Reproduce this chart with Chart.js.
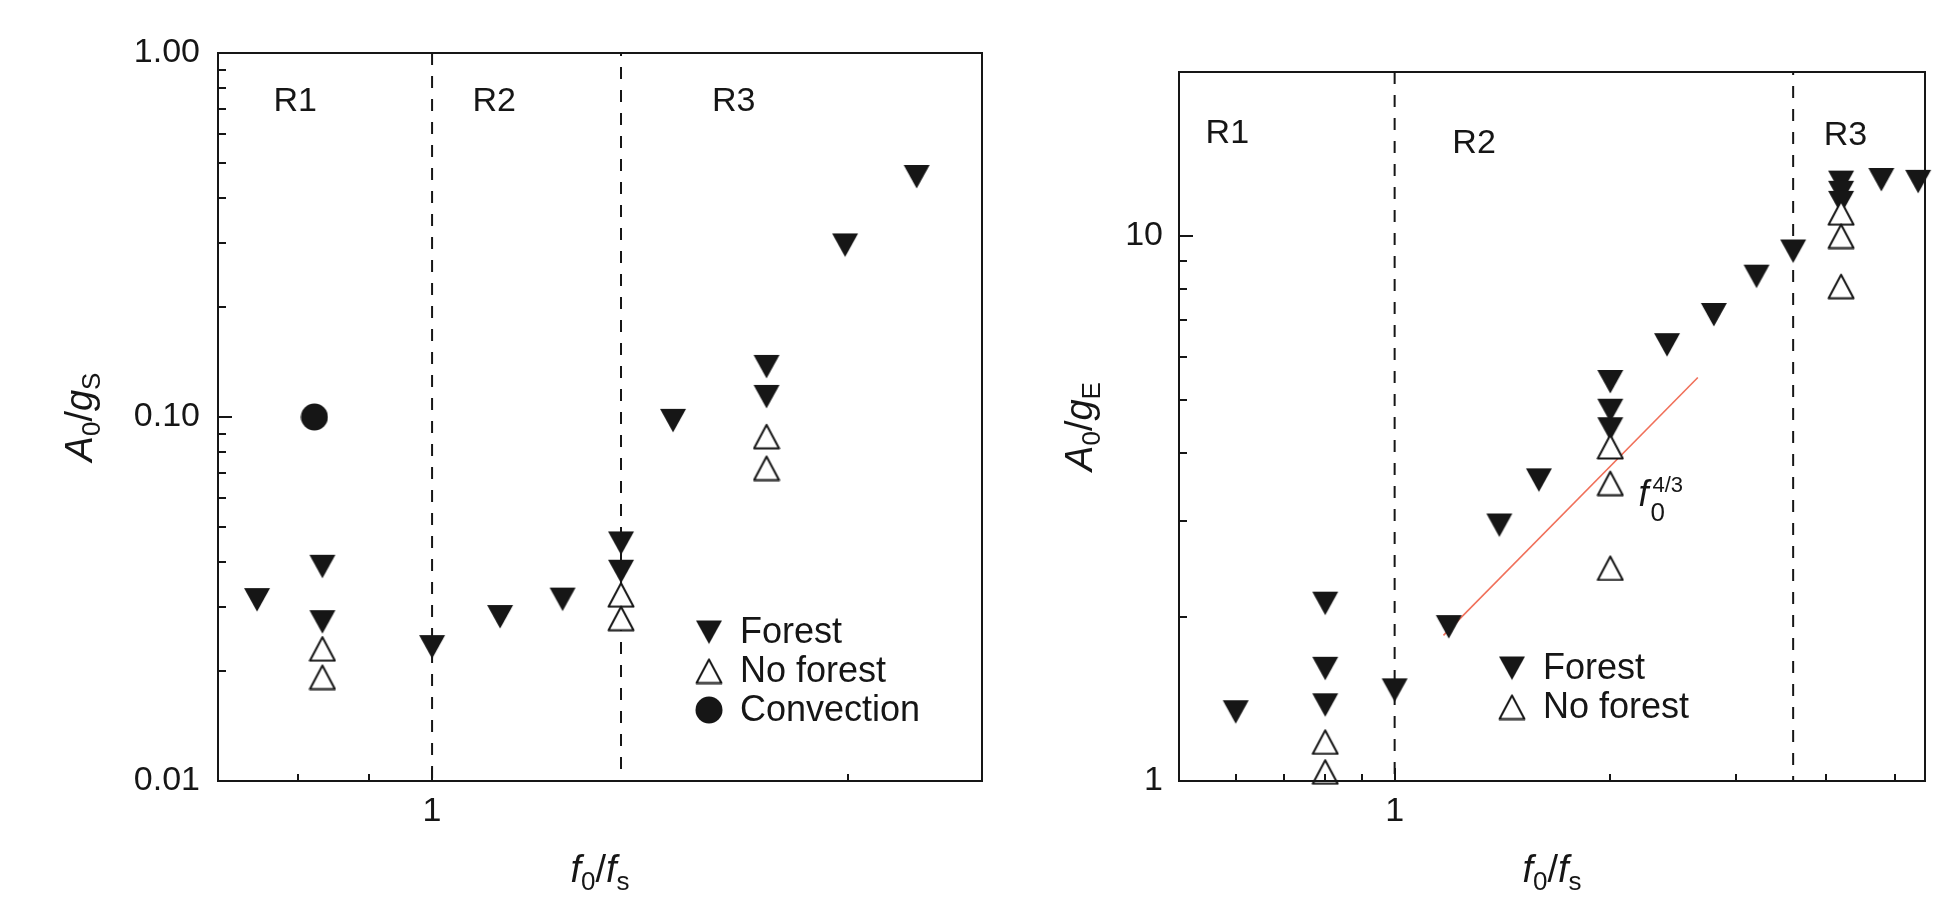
<!DOCTYPE html>
<html>
<head>
<meta charset="utf-8">
<script src="https://cdn.jsdelivr.net/npm/chart.js@4.4.1/dist/chart.umd.min.js"></script>
<style>
  body { margin: 0; background: #fff; width: 1959px; height: 901px; overflow: hidden; position: relative; }
  canvas { position: absolute; top: 0; }
  #left { left: 0; }
  #right { left: 1000px; }
</style>
</head>
<body>
<canvas id="left" width="1000" height="901"></canvas>
<canvas id="right" width="959" height="901"></canvas>
<script>
var INK = '#161616';
var FONT = "'Liberation Sans', Arial, Helvetica, sans-serif";

// left panel: A0/gS against f0/fs
var forestSx = [0.747, 0.833, 0.833, 1.0, 1.12, 1.243, 1.37, 1.37, 1.494, 1.746, 1.746, 1.99, 2.242];
var forestSy = [0.0315, 0.0389, 0.0274, 0.0234, 0.0283, 0.0316, 0.0451, 0.0377, 0.0979, 0.1377, 0.1139, 0.297, 0.458];
var noForestSx = [0.833, 0.833, 1.37, 1.37, 1.746, 1.746];
var noForestSy = [0.0231, 0.0193, 0.0325, 0.0280, 0.0885, 0.0724];
var convSx = [0.822];
var convSy = [0.100];
var boundsS = [1, 1.37];
var xTicksS = [0.8, 0.9, 1, 2];
var xMajorS = [1];
var xMajorLabelsS = ['1'];
var yTicksS = [0.01, 0.02, 0.03, 0.04, 0.05, 0.06, 0.07, 0.08, 0.09, 0.1, 0.2, 0.3, 0.4, 0.5, 0.6, 0.7, 0.8, 0.9, 1];
var yMajorS = [0.01, 0.1, 1];
var yMajorLabelsS = ['0.01', '0.10', '1.00'];

// right panel: A0/gE against f0/fs
var forestEx = [0.6, 0.8, 0.8, 0.8, 1.0, 1.19, 1.4, 1.59, 2.0, 2.0, 2.0, 2.4, 2.79, 3.2, 3.6, 4.2, 4.2, 4.2, 4.78, 5.38];
var forestEy = [1.34, 2.12, 1.61, 1.38, 1.47, 1.92, 2.95, 3.57, 5.41, 4.79, 4.43, 6.32, 7.18, 8.44, 9.39, 12.56, 12.03, 11.53, 12.7, 12.6];
var noForestEx = [0.8, 0.8, 2.0, 2.0, 2.0, 4.2, 4.2, 4.2];
var noForestEy = [1.18, 1.04, 4.11, 3.52, 2.46, 11.04, 10.0, 8.09];
var fitEx = [1.17, 2.65];
var fitEy = [1.85, 5.5];
var boundsE = [1, 3.6];
var xTicksE = [0.6, 0.7, 0.8, 0.9, 1, 2, 3, 4, 5];
var xMajorE = [1];
var xMajorLabelsE = ['1'];
var yTicksE = [1, 2, 3, 4, 5, 6, 7, 8, 9, 10];
var yMajorE = [1, 10];
var yMajorLabelsE = ['1', '10'];

// marker sprites
function marker(kind) {
  var c = document.createElement('canvas');
  var g = c.getContext('2d');
  if (kind === 'circle') {
    c.width = 28; c.height = 28;
    g.fillStyle = INK;
    g.beginPath(); g.arc(14, 14, 13.5, 0, Math.PI * 2); g.fill();
    return c;
  }
  c.width = 28; c.height = 27;
  g.beginPath();
  if (kind === 'down') {
    g.moveTo(1, 2); g.lineTo(27, 2); g.lineTo(14, 25.5);
  } else {
    g.moveTo(14, 2); g.lineTo(26.5, 25.5); g.lineTo(1.5, 25.5);
  }
  g.closePath();
  if (kind === 'down') {
    g.fillStyle = INK; g.fill();
  } else {
    g.fillStyle = '#fff'; g.fill();
    g.lineWidth = 2; g.lineJoin = 'round'; g.strokeStyle = INK; g.stroke();
  }
  return c;
}
var downTri = marker('down');
var upTri = marker('up');
var dot = marker('circle');

function pts(xs, ys) {
  return xs.map(function (x, i) { return {x: x, y: ys[i]}; });
}

function scatterSet(label, xs, ys, style) {
  return {label: label, data: pts(xs, ys), pointStyle: style, pointRadius: 13, clip: false, showLine: false};
}

function vline(x, lo, hi, offset) {
  return {
    data: [{x: x, y: hi}, {x: x, y: lo}], showLine: true, borderColor: INK, borderWidth: 2,
    borderDash: [12, 11], borderDashOffset: offset, pointRadius: 0, fill: false
  };
}

function logAxis(min, max, ticks, majors, majorLabels, pad, fit) {
  return {
    type: 'logarithmic', min: min, max: max, bounds: 'data',
    afterBuildTicks: function (s) { s.ticks = ticks.map(function (v) { return {value: v}; }); },
    afterFit: fit,
    grid: {display: false, drawTicks: false},
    border: {display: false},
    ticks: {
      autoSkip: false, maxRotation: 0, minRotation: 0, padding: pad, color: INK,
      font: {family: FONT, size: 34},
      callback: function (v) { var i = majors.indexOf(v); return i < 0 ? '' : majorLabels[i]; }
    }
  };
}

function rich(ctx, parts, x, y, align) {
  var w = 0;
  parts.forEach(function (p) {
    ctx.font = (p.i ? 'italic ' : '') + p.s + 'px ' + FONT;
    p.w = ctx.measureText(p.t).width;
    if (!p.stay) w += p.w + (p.dx || 0);
  });
  var cx = align === 'center' ? x - w / 2 : x;
  ctx.textAlign = 'left';
  ctx.textBaseline = 'alphabetic';
  parts.forEach(function (p) {
    ctx.font = (p.i ? 'italic ' : '') + p.s + 'px ' + FONT;
    ctx.fillText(p.t, cx + (p.dx || 0), y + (p.dy || 0));
    if (!p.stay) cx += p.w + (p.dx || 0);
  });
}

function deco(cfg) {
  return {
    id: 'deco',
    afterDraw: function (chart) {
      var ctx = chart.ctx, a = chart.chartArea, xs = chart.scales.x, ys = chart.scales.y;
      ctx.save();
      ctx.strokeStyle = INK; ctx.fillStyle = INK; ctx.lineWidth = 2;
      ctx.strokeRect(a.left, a.top, a.right - a.left, a.bottom - a.top);

      // ticks point into the plot
      ctx.beginPath();
      xs.ticks.forEach(function (t) {
        var p = Math.round(xs.getPixelForValue(t.value));
        ctx.moveTo(p, a.bottom); ctx.lineTo(p, a.bottom - (t.label ? 13 : 7));
      });
      ys.ticks.forEach(function (t) {
        var p = Math.round(ys.getPixelForValue(t.value));
        ctx.moveTo(a.left, p); ctx.lineTo(a.left + (t.label ? 14 : 8), p);
      });
      ctx.stroke();

      // R1 / R2 / R3
      ctx.font = '34px ' + FONT; ctx.textAlign = 'center'; ctx.textBaseline = 'middle';
      cfg.regions.forEach(function (r) {
        ctx.fillText(r[0], xs.getPixelForValue(r[1]), ys.getPixelForValue(r[2]));
      });

      // legend
      var lg = cfg.legend;
      lg.labels.forEach(function (name, i) {
        var ds = chart.data.datasets.filter(function (d) { return d.label === name; })[0];
        var y = lg.y + i * lg.dy;
        var m = ds.pointStyle;
        ctx.drawImage(m, lg.x - m.width / 2, y - m.height / 2);
        ctx.font = '36px ' + FONT; ctx.textAlign = 'left'; ctx.textBaseline = 'middle';
        ctx.fillText(name, lg.x + 31, y + 1);
      });

      // axis titles
      rich(ctx, cfg.xTitle, (a.left + a.right) / 2, 882, 'center');
      ctx.save();
      ctx.translate(cfg.yTitleX, (a.top + a.bottom) / 2);
      ctx.rotate(-Math.PI / 2);
      rich(ctx, cfg.yTitle, 0, 0, 'center');
      ctx.restore();

      if (cfg.note) {
        rich(ctx, cfg.note.parts, xs.getPixelForValue(cfg.note.x), ys.getPixelForValue(cfg.note.y), 'left');
      }
      ctx.restore();
    }
  };
}

var xTitle = [
  {t: 'f', i: 1, s: 38}, {t: '0', s: 26, dy: 8}, {t: '/', s: 38},
  {t: 'f', i: 1, s: 38}, {t: 's', s: 26, dy: 8}
];

function yTitle(sub) {
  return [
    {t: 'A', i: 1, s: 38}, {t: '0', s: 26, dy: 8}, {t: '/', s: 38},
    {t: 'g', i: 1, s: 38}, {t: sub, s: 26, dy: 8}
  ];
}

var common = {
  responsive: false, animation: false, devicePixelRatio: 1,
  plugins: {legend: {display: false}, tooltip: {enabled: false}}
};

new Chart(document.getElementById('left'), {
  type: 'scatter',
  data: {
    datasets: [
      scatterSet('No forest', noForestSx, noForestSy, upTri),
      scatterSet('Forest', forestSx, forestSy, downTri),
      scatterSet('Convection', convSx, convSy, dot),
      vline(boundsS[0], 0.01, 1, 0),
      vline(boundsS[1], 0.01, 1, 9)
    ]
  },
  options: Object.assign({}, common, {
    layout: {padding: {left: 0, top: 53, right: 18, bottom: 0}},
    scales: {
      x: logAxis(0.7, 2.5, xTicksS, xMajorS, xMajorLabelsS, 10, function (s) { s.height = 120; }),
      y: logAxis(0.01, 1, yTicksS, yMajorS, yMajorLabelsS, 18, function (s) { s.width = 218; })
    }
  }),
  plugins: [deco({
    regions: [['R1', 0.796, 0.735], ['R2', 1.109, 0.735], ['R3', 1.653, 0.735]],
    legend: {labels: ['Forest', 'No forest', 'Convection'], x: 709, y: 632, dy: 39},
    xTitle: xTitle,
    yTitle: yTitle('S'),
    yTitleX: 92
  })]
});

new Chart(document.getElementById('right'), {
  type: 'scatter',
  data: {
    datasets: [
      scatterSet('No forest', noForestEx, noForestEy, upTri),
      scatterSet('Forest', forestEx, forestEy, downTri),
      {
        data: pts(fitEx, fitEy), showLine: true, borderColor: '#f0705a', borderWidth: 1.6,
        pointRadius: 0, fill: false
      },
      vline(boundsE[0], 1, 20, 0),
      vline(boundsE[1], 1, 20, 9)
    ]
  },
  options: Object.assign({}, common, {
    layout: {padding: {left: 0, top: 72, right: 34, bottom: 0}},
    scales: {
      x: logAxis(0.5, 5.5, xTicksE, xMajorE, xMajorLabelsE, 10, function (s) { s.height = 120; }),
      y: logAxis(1, 20, yTicksE, yMajorE, yMajorLabelsE, 16, function (s) { s.width = 179; })
    }
  }),
  plugins: [deco({
    regions: [['R1', 0.584, 15.4], ['R2', 1.291, 14.8], ['R3', 4.26, 15.3]],
    legend: {labels: ['Forest', 'No forest'], x: 512, y: 668, dy: 39},
    xTitle: xTitle,
    yTitle: yTitle('E'),
    yTitleX: 92,
    note: {
      x: 2.19, y: 3.2,
      parts: [
        {t: 'f', i: 1, s: 36}, {t: '0', s: 26, dy: 15, dx: 2, stay: 1}, {t: '4/3', s: 22, dy: -14, dx: 4}
      ]
    }
  })]
});
</script>
</body>
</html>
